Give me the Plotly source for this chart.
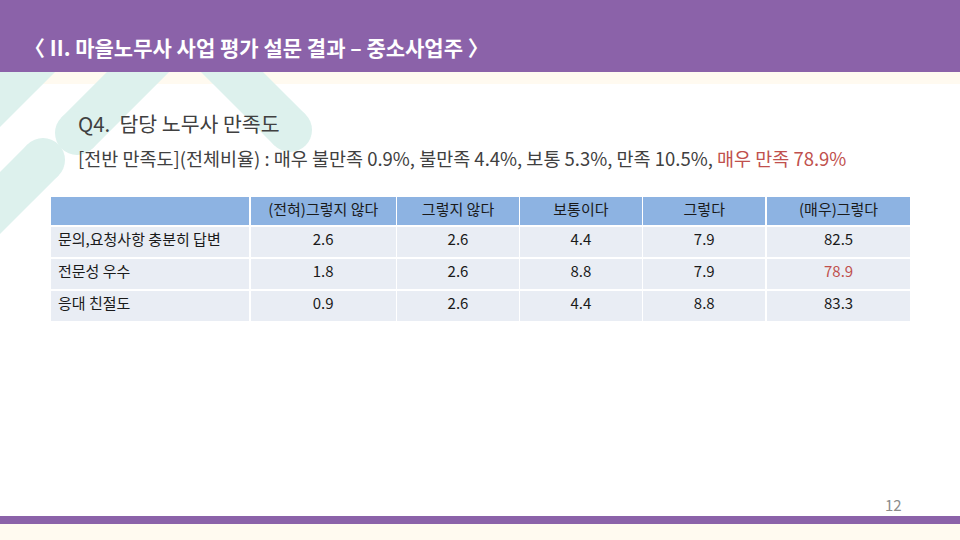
import math
import plotly.graph_objects as go

# ---- Table data ----
columns = ["", "(전혀)그렇지 않다", "그렇지 않다", "보통이다", "그렇다", "(매우)그렇다"]
items = ["문의,요청사항 충분히 답변", "전문성 우수", "응대 친절도"]
not_at_all = [2.6, 1.8, 0.9]
disagree = [2.6, 2.6, 2.6]
neutral = [4.4, 8.8, 4.4]
agree = [7.9, 7.9, 8.8]
strongly_agree = [82.5, 78.9, 83.3]

highlight_item = "전문성 우수"   # red value in last column

W, H = 960, 540
PURPLE = "#8b62a9"
CREAM = "#fffaf0"
MINT = "#ddf1ed"
RED = "#c0504d"
FONT = "Noto Sans CJK KR"


def px(x, y):
    # pixel position -> paper coords
    return x / W, 1 - y / H


def band(p1, p2, w):
    # straight stripe between two points, as a filled path
    (x1, y1), (x2, y2) = p1, p2
    dx, dy = x2 - x1, y2 - y1
    L = math.hypot(dx, dy)
    nx, ny = -dy / L * w / 2, dx / L * w / 2
    pts = [(x1 + nx, y1 + ny), (x2 + nx, y2 + ny), (x2 - nx, y2 - ny), (x1 - nx, y1 - ny)]
    pts = [px(*p) for p in pts]
    path = "M " + " L ".join(f"{a:.5f},{b:.5f}" for a, b in pts) + " Z"
    return dict(type="path", path=path, xref="paper", yref="paper",
                fillcolor=MINT, line_width=0, layer="below")


def cap(c, w):
    x, y = c
    x0, y0 = px(x - w / 2, y - w / 2)
    x1, y1 = px(x + w / 2, y + w / 2)
    return dict(type="circle", x0=x0, y0=y0, x1=x1, y1=y1, xref="paper", yref="paper",
                fillcolor=MINT, line_width=0, layer="below")


def rect(xa, ya, xb, yb, color):
    x0, y0 = px(xa, ya)
    x1, y1 = px(xb, yb)
    return dict(type="rect", x0=x0, y0=y0, x1=x1, y1=y1, xref="paper", yref="paper",
                fillcolor=color, line_width=0, layer="below")


sw = 44
shapes = [
    rect(0, 72, W, 84, CREAM),
    rect(0, 524, W, H, CREAM),
    # mint decorative stripes
    band((-100, 196), (150, -54), sw),
    band((77, 133), (185, 25), sw), cap((77, 133), sw),
    band((185, 25), (290, 130), sw), cap((290, 130), sw),
    band((43, 160), (-100, 303), sw), cap((43, 160), sw),
    # header + footer bar
    rect(0, 0, W, 72, PURPLE),
    rect(0, 516, W, 524, PURPLE),
]

fmt = lambda v: f"{v:.1f}"
cell_values = [items, [fmt(v) for v in not_at_all], [fmt(v) for v in disagree],
               [fmt(v) for v in neutral], [fmt(v) for v in agree], [fmt(v) for v in strongly_agree]]
font_colors = [["#1a1a1a"] * len(items) for _ in columns]
font_colors[-1] = [RED if it == highlight_item else "#1a1a1a" for it in items]

tx0, ty0 = px(50, 324)
tx1, ty1 = px(912, 196)

fig = go.Figure(go.Table(
    domain=dict(x=[tx0, tx1], y=[ty0, ty1]),
    columnwidth=[200, 147, 123, 123, 124, 145],
    header=dict(values=columns, fill_color="#8db3e2", line=dict(color="white", width=1.5),
                align="center", height=30,
                font=dict(family=FONT, size=15, color="#1a1a1a")),
    cells=dict(values=cell_values, fill_color="#e9edf4", line=dict(color="white", width=1.5),
               align=["left"] + ["center"] * 5, height=32,
               font=dict(family=FONT, size=15, color=font_colors)),
))

annotations = []
x, y = px(22, 47)
annotations.append(dict(x=x, y=y, xref="paper", yref="paper", xanchor="left", yanchor="middle",
                        showarrow=False, text="<b>〈 II. 마을노무사 사업 평가 설문 결과 – 중소사업주 〉</b>",
                        font=dict(family=FONT, size=21, color="white")))
x, y = px(76, 123)
annotations.append(dict(x=x, y=y, xref="paper", yref="paper", xanchor="left", yanchor="middle",
                        showarrow=False, text="Q4.  담당 노무사 만족도",
                        font=dict(family=FONT, size=20.5, color="#404040")))
x, y = px(76, 158)
annotations.append(dict(x=x, y=y, xref="paper", yref="paper", xanchor="left", yanchor="middle",
                        showarrow=False,
                        text="[전반 만족도](전체비율) : 매우 불만족 0.9%, 불만족 4.4%, 보통 5.3%, 만족 10.5%, "
                             f"<span style='color:{RED}'>매우 만족 78.9%</span>",
                        font=dict(family=FONT, size=18.5, color="#404040")))
x, y = px(893, 504)
annotations.append(dict(x=x, y=y, xref="paper", yref="paper", xanchor="center", yanchor="middle",
                        showarrow=False, text="12",
                        font=dict(family=FONT, size=15, color="#8c8c8c")))

fig.update_layout(
    width=W, height=H,
    margin=dict(l=0, r=0, t=0, b=0),
    paper_bgcolor="white",
    plot_bgcolor="white",
    shapes=shapes,
    annotations=annotations,
    showlegend=False,
)

# drop the default page margin so the slide sits at the window corner
fig.write_html("out.html", config={"displayModeBar": False},
               post_script="document.body.style.margin='0';document.body.style.overflow='hidden';")
